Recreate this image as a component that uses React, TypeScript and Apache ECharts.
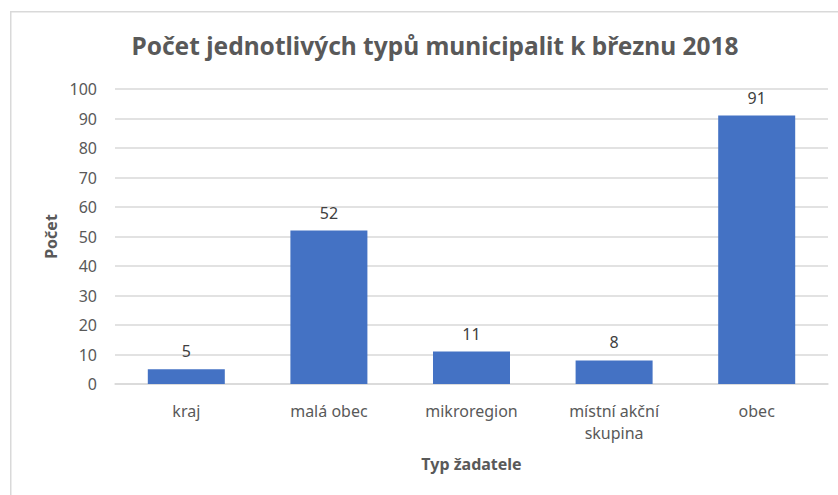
import React, { useEffect, useRef } from "react";
import * as echarts from "echarts";

const categories = ["kraj", "malá obec", "mikroregion", "místní akční skupina", "obec"];
const values = [5, 52, 11, 8, 91];
const titleText = "Počet jednotlivých typů municipalit k březnu 2018";
const xAxisName = "Typ žadatele";
const yAxisName = "Počet";

const FONT = "'Noto Sans', 'Open Sans', sans-serif";

function wrapLabel(s: string, maxChars: number): string {
  const words = s.split(" ");
  const lines: string[] = [];
  let cur = "";
  for (const w of words) {
    const next = cur ? cur + " " + w : w;
    if (next.length > maxChars && cur) {
      lines.push(cur);
      cur = w;
    } else {
      cur = next;
    }
  }
  if (cur) lines.push(cur);
  return lines.join("\n");
}

export default function App() {
  const ref = useRef<HTMLDivElement>(null);
  useEffect(() => {
    document.body.style.margin = "0";
    const chart = echarts.init(ref.current!, null, { renderer: "svg" });
    chart.setOption({
      animation: false,
      backgroundColor: "#ffffff",
      graphic: [
        {
          type: "rect",
          left: 10,
          top: 11,
          shape: { width: 840, height: 500 },
          style: { fill: "#ffffff", stroke: "#d9d9d9", lineWidth: 1.5 },
          z: -10,
        },
      ],
      title: {
        text: titleText,
        left: 430,
        textAlign: "center",
        top: 28,
        textStyle: { fontFamily: FONT, fontSize: 24.5, fontWeight: "bold", color: "#595959" },
      },
      grid: { left: 115, right: 10, top: 89, bottom: 111, containLabel: false },
      xAxis: {
        type: "category",
        data: categories,
        name: xAxisName,
        nameLocation: "middle",
        nameGap: 72,
        nameMoveOverlap: false,
        nameTextStyle: { fontFamily: FONT, fontSize: 16, fontWeight: "bold", color: "#595959" },
        axisLine: { show: true, lineStyle: { color: "#d9d9d9", width: 1.5 } },
        axisTick: { show: false },
        axisLabel: {
          fontFamily: FONT,
          fontSize: 16,
          color: "#595959",
          margin: 16,
          lineHeight: 22,
          interval: 0,
          formatter: (v: string) => wrapLabel(v, 12),
        },
      },
      yAxis: {
        type: "value",
        min: 0,
        max: 100,
        interval: 10,
        name: yAxisName,
        nameLocation: "middle",
        nameGap: 56,
        nameRotate: 90,
        nameMoveOverlap: false,
        nameTextStyle: { fontFamily: FONT, fontSize: 16, fontWeight: "bold", color: "#595959" },
        axisLine: { show: false },
        axisTick: { show: false },
        axisLabel: { fontFamily: FONT, fontSize: 16, color: "#595959", margin: 18 },
        splitLine: { lineStyle: { color: "#d9d9d9", width: 1.5 } },
      },
      series: [
        {
          type: "bar",
          data: values,
          barCategoryGap: "46%",
          itemStyle: { color: "#4472C4" },
          label: {
            show: true,
            position: "top",
            distance: 10,
            fontFamily: FONT,
            fontSize: 16,
            color: "#404040",
          },
        },
      ],
    });
    return () => chart.dispose();
  }, []);
  return <div ref={ref} style={{ width: 838, height: 495 }} />;
}
